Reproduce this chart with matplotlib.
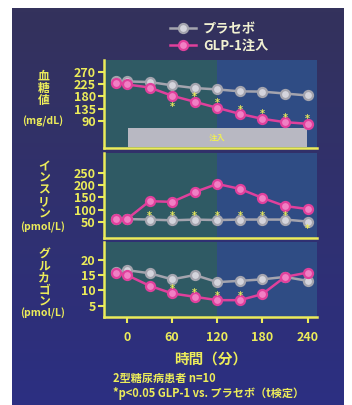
import matplotlib.pyplot as plt
import numpy as np

plt.rcParams['font.family'] = ['Noto Sans CJK JP', 'DejaVu Sans']

# 時間（分）
times = [-15, 0, 30, 60, 90, 120, 150, 180, 210, 240]

# 血糖値 (mg/dL)
glucose_placebo = [235, 234, 232, 220, 210, 205, 198, 197, 190, 183]
glucose_glp1 = [230, 223, 212, 182, 160, 138, 116, 98, 86, 80]

# インスリン (pmol/L)
insulin_placebo = [62, 62, 60, 57, 60, 58, 60, 60, 60, 52]
insulin_glp1 = [62, 62, 135, 132, 172, 205, 185, 148, 115, 103]

# グルカゴン (pmol/L)
glucagon_placebo = [16.0, 16.6, 15.6, 13.6, 15.0, 12.7, 13.1, 13.6, 14.4, 13.1]
glucagon_glp1 = [15.8, 15.0, 11.5, 9.0, 7.9, 6.8, 6.8, 8.8, 14.4, 15.8]

glucose_ticks = [90, 135, 180, 225, 270]
insulin_ticks = [50, 100, 150, 200, 250]
glucagon_ticks = [5, 10, 15, 20]
time_ticks = [0, 60, 120, 180, 240]

# 有意差のある時点
glucose_sig = [60, 90, 120, 150, 180, 210, 240]
insulin_sig = [30, 60, 90, 120, 150, 180, 210, 240]
glucagon_sig = [60, 90, 120, 150]

infusion = (0, 240)

YEL = '#ecec5a'
PINK = '#e0409c'
GRAY = '#a4a4ae'
TEAL = '#2f5a64'
BLUE = '#2f4c84'

fig = plt.figure(figsize=(3.52, 4.05), dpi=100, facecolor='white')

# 背景（紺のグラデーション）
bg = fig.add_axes([12 / 352, 0, 332 / 352, 1 - 8 / 405])
bg.imshow(np.linspace(0, 1, 100).reshape(-1, 1), aspect='auto',
          cmap=plt.matplotlib.colors.LinearSegmentedColormap.from_list(
              'bg', ['#34325c', '#2c2f82']), extent=[0, 1, 0, 1])
bg.set_axis_off()

L, W = 104 / 352, 213 / 352
ax1 = fig.add_axes([L, 257 / 405, W, 88 / 405])
ax2 = fig.add_axes([L, 167 / 405, W, 85 / 405])
ax3 = fig.add_axes([L, 88 / 405, W, 75 / 405])

def style(ax, ylim, ticks):
    ax.set_xlim(-30.5, 252.5)
    ax.set_ylim(*ylim)
    ax.patch.set_alpha(0)
    ax.axvspan(-40, 120, color=TEAL, zorder=0, lw=0)
    ax.axvspan(120, 260, color=BLUE, zorder=0, lw=0)
    for s in ['top', 'right']:
        ax.spines[s].set_visible(False)
    for s in ['left', 'bottom']:
        ax.spines[s].set_color(YEL)
        ax.spines[s].set_linewidth(1.8)
    ax.set_yticks(ticks)
    ax.tick_params(axis='y', colors=YEL, length=4, width=1.5, pad=2,
                   labelsize=9)
    for t in ax.get_yticklabels():
        t.set_fontweight('bold')

def series(ax, y, col, face):
    return ax.plot(times, y, color=col, lw=1.8, marker='o', ms=6.5,
                   mfc=face, mec=col, mew=1.6, zorder=3)[0]

def stars(ax, xs, ys):
    for x, y in zip(xs, ys):
        ax.text(x, y, '*', color=YEL, fontsize=7, fontweight='bold',
                ha='center', va='center', zorder=5, family='DejaVu Sans')

# 血糖値
style(ax1, (-8, 312), glucose_ticks)
ax1.set_xticks([])
ax1.bar((infusion[0] + infusion[1]) / 2, 69, bottom=-5,
        width=infusion[1] - infusion[0] - 2, color='#b8b8c2', zorder=1)
ax1.text(120, 28, '注入', color=YEL, fontsize=6, fontweight='bold',
         ha='center', va='center', zorder=2)
hp = series(ax1, glucose_placebo, GRAY, '#d4d4dc')
hg = series(ax1, glucose_glp1, PINK, '#f080c4')
gy = dict(zip(times, glucose_glp1))
stars(ax1, glucose_sig, [141 if t == 60 else gy[t] + 16 for t in glucose_sig])

# インスリン
style(ax2, (-15, 331), insulin_ticks)
ax2.set_xticks([])
series(ax2, insulin_placebo, GRAY, '#d4d4dc')
series(ax2, insulin_glp1, PINK, '#f080c4')
iy = dict(zip(times, insulin_placebo))
stars(ax2, insulin_sig, [20 if t == 240 else iy[t] + 16 for t in insulin_sig])

# グルカゴン
style(ax3, (1.3, 25.8), glucagon_ticks)
series(ax3, glucagon_placebo, GRAY, '#d4d4dc')
series(ax3, glucagon_glp1, PINK, '#f080c4')
cy = dict(zip(times, glucagon_glp1))
stars(ax3, glucagon_sig, [cy[t] + 1.4 for t in glucagon_sig])
ax3.set_xticks(time_ticks)
ax3.tick_params(axis='x', colors=YEL, length=4, width=1.5, pad=6,
                labelsize=9)
for t in ax3.get_xticklabels():
    t.set_fontweight('bold')
ax3.set_xlabel('時間（分）', color=YEL, fontsize=10.5, fontweight='bold',
               labelpad=5)

# 縦書きの軸ラベル
def vlabel(y_top, word, unit, y_unit):
    fig.text(44 / 352, 1 - y_top / 405, '\n'.join(word), color=YEL,
             fontsize=8.5, fontweight='bold', ha='center', va='top',
             linespacing=0.88)
    fig.text(43 / 352, 1 - y_unit / 405, unit, color=YEL, fontsize=7.5,
             fontweight='bold', ha='center', va='center')

vlabel(70, '血糖値', '(mg/dL)', 121)
vlabel(160, 'インスリン', '(pmol/L)', 227)
vlabel(248, 'グルカゴン', '(pmol/L)', 313)

fig.legend([hp, hg], ['プラセボ', 'GLP-1注入'], loc='upper left',
           bbox_to_anchor=(158 / 352, 1 - 10 / 405), frameon=False,
           handlelength=2.0, handletextpad=0.5, labelspacing=0.2,
           labelcolor='#f2f2d2',
           prop={'family': ['Noto Sans CJK JP', 'DejaVu Sans'],
                 'weight': 'bold', 'size': 9.5})

fig.text(113 / 352, 1 - 378 / 405, '2型糖尿病患者 n=10', color=YEL,
         fontsize=8, fontweight='bold', va='center')
fig.text(113 / 352, 1 - 394 / 405, '*p<0.05 GLP-1 vs. プラセボ（t検定）',
         color=YEL, fontsize=8, fontweight='bold', va='center')

fig.savefig('out.png', dpi=100, facecolor='white')
